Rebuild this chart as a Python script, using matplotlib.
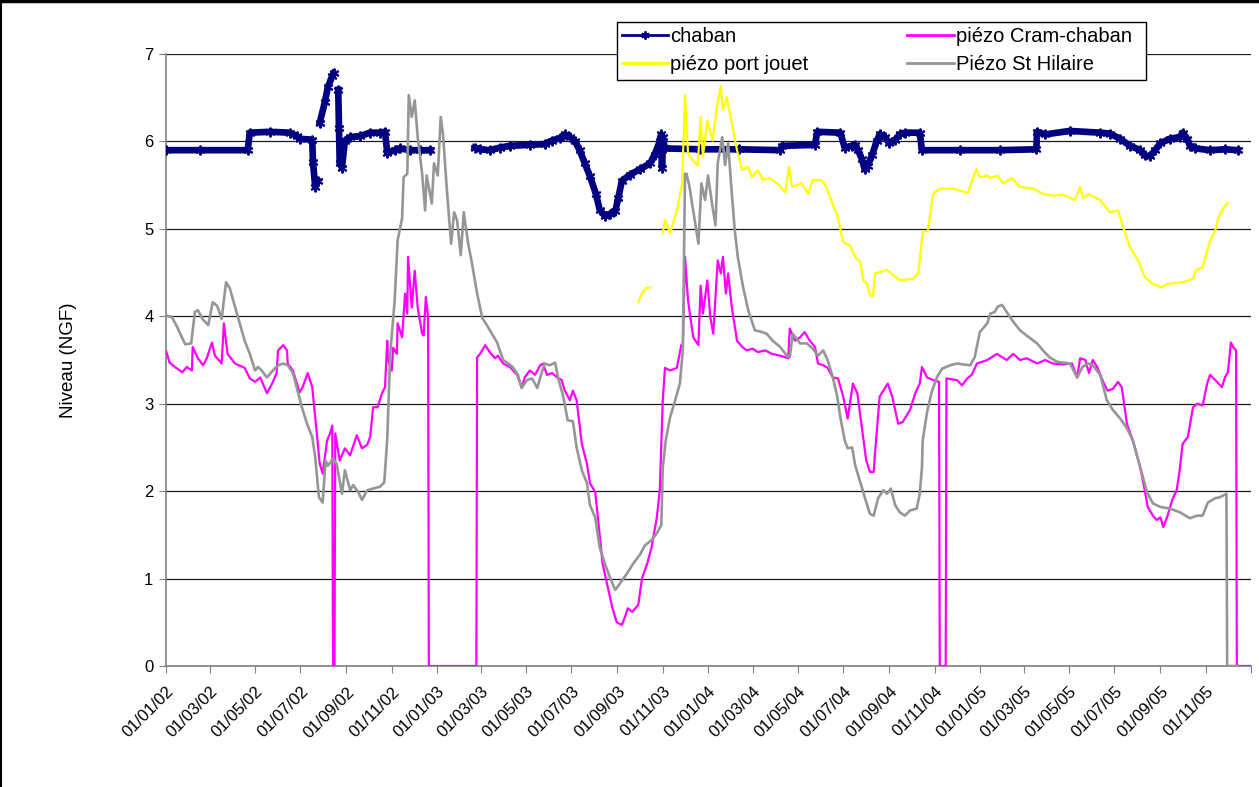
import numpy as np
import pandas as pd
import matplotlib
matplotlib.use('Agg')
import matplotlib.pyplot as plt
from matplotlib.lines import Line2D
from matplotlib.patches import Rectangle

plt.rcParams['font.family'] = ['Liberation Sans', 'DejaVu Sans']

# --- niveau canal de Chaban (None = pas de mesure) ---
chaban_dates = [
    '2002-01-01', '2002-02-16', '2002-04-21', '2002-04-24', '2002-05-21', '2002-06-17',
    '2002-06-26', '2002-06-30', '2002-07-17', '2002-07-18', '2002-07-21', '2002-07-25',
    '2002-07-26', '2002-07-27', '2002-08-03', '2002-08-07', '2002-08-13', '2002-08-15',
    '2002-08-18', '2002-08-21', '2002-08-22', '2002-08-23', '2002-08-26', '2002-08-30',
    '2002-09-06', '2002-09-19', '2002-10-03', '2002-10-16', '2002-10-23', '2002-10-26',
    '2002-11-05', '2002-11-12', '2002-11-26', '2002-12-09', '2002-12-23', '2003-01-20',
    '2003-02-21', '2003-02-28', '2003-03-13', '2003-03-27', '2003-04-09', '2003-05-06',
    '2003-05-26', '2003-06-05', '2003-06-16', '2003-06-22', '2003-06-29', '2003-07-06',
    '2003-07-12', '2003-07-19', '2003-07-26', '2003-08-03', '2003-08-08', '2003-08-15',
    '2003-08-22', '2003-08-29', '2003-09-02', '2003-09-07', '2003-09-18', '2003-10-01',
    '2003-10-15', '2003-10-21', '2003-10-28', '2003-10-30', '2003-10-31', '2003-11-01',
    '2003-11-04', '2003-12-21', '2004-02-12', '2004-04-07', '2004-04-10', '2004-05-24',
    '2004-05-27', '2004-06-27', '2004-07-03', '2004-07-13', '2004-07-17', '2004-07-21',
    '2004-07-26', '2004-07-30', '2004-08-03', '2004-08-09', '2004-08-15', '2004-08-19',
    '2004-08-26', '2004-09-01', '2004-09-09', '2004-09-15', '2004-09-22', '2004-10-12',
    '2004-10-15', '2004-12-05', '2005-01-28', '2005-03-18', '2005-03-19', '2005-03-30',
    '2005-05-02', '2005-06-12', '2005-06-25', '2005-07-09', '2005-07-22', '2005-08-05',
    '2005-08-11', '2005-08-18', '2005-08-25', '2005-09-01', '2005-09-14', '2005-09-27',
    '2005-10-01', '2005-10-07', '2005-10-11', '2005-10-18', '2005-11-07', '2005-11-27',
    '2005-12-14',
]
chaban_vals = [
    5.90, 5.90, 5.90, 6.10, 6.11, 6.10,
    6.06, 6.03, 6.02, 5.76, 5.48, 5.55,
    None, 6.21, 6.45, 6.62, 6.75, 6.78,
    None, 6.59, 6.15, 5.75, 5.70, 6.01,
    6.05, 6.06, 6.10, 6.10, 6.11, 5.87,
    5.90, 5.92, 5.90, 5.90, 5.90, None,
    5.93, 5.91, 5.90, 5.93, 5.95, 5.96,
    5.97, 6.01, 6.04, 6.08, 6.05, 6.00,
    5.90, 5.75, 5.60, 5.40, 5.22, 5.15,
    5.17, 5.20, 5.35, 5.55, 5.62, 5.68,
    5.75, 5.85, 6.00, 6.08, 5.70, 6.05,
    5.92, 5.91, 5.91, 5.90, 5.95, 5.96,
    6.11, 6.10, 5.93, 5.95, 5.96, 5.90,
    5.80, 5.68, 5.72, 5.85, 6.00, 6.08,
    6.05, 5.98, 6.02, 6.08, 6.10, 6.10,
    5.90, 5.90, 5.90, 5.91, 6.11, 6.08,
    6.12, 6.10, 6.09, 6.03, 5.95, 5.90,
    5.84, 5.83, 5.90, 5.98, 6.03, 6.05,
    6.10, 6.03, 5.95, 5.92, 5.90, 5.91,
    5.90,
]

# --- piézo Cram-chaban ---
cram_dates = [
    '2002-01-01', '2002-01-06', '2002-01-13', '2002-01-23', '2002-01-29', '2002-02-05',
    '2002-02-06', '2002-02-13', '2002-02-20', '2002-02-25', '2002-03-04', '2002-03-08',
    '2002-03-17', '2002-03-20', '2002-03-25', '2002-04-04', '2002-04-17', '2002-04-24',
    '2002-05-01', '2002-05-08', '2002-05-17', '2002-05-24', '2002-05-30', '2002-06-01',
    '2002-06-08', '2002-06-13', '2002-06-14', '2002-06-21', '2002-06-30', '2002-07-04',
    '2002-07-11', '2002-07-17', '2002-07-21', '2002-07-27', '2002-07-31', '2002-08-06',
    '2002-08-10', '2002-08-13', '2002-08-14', '2002-08-16', '2002-08-17', '2002-08-23',
    '2002-08-30', '2002-09-06', '2002-09-15', '2002-09-22', '2002-09-29', '2002-10-03',
    '2002-10-07', '2002-10-13', '2002-10-19', '2002-10-23', '2002-10-26', '2002-10-27',
    '2002-11-01', '2002-11-03', '2002-11-08', '2002-11-09', '2002-11-15', '2002-11-19',
    '2002-11-22', '2002-11-23', '2002-11-28', '2002-12-02', '2002-12-06', '2002-12-12',
    '2002-12-14', '2002-12-17', '2002-12-20', '2002-12-21', '2003-02-23', '2003-02-24',
    '2003-02-28', '2003-03-07', '2003-03-13', '2003-03-20', '2003-03-24', '2003-03-31',
    '2003-04-09', '2003-04-19', '2003-04-25', '2003-04-29', '2003-05-06', '2003-05-13',
    '2003-05-20', '2003-05-24', '2003-05-29', '2003-06-05', '2003-06-12', '2003-06-18',
    '2003-06-22', '2003-06-29', '2003-07-03', '2003-07-08', '2003-07-15', '2003-07-22',
    '2003-07-26', '2003-08-02', '2003-08-06', '2003-08-12', '2003-08-19', '2003-08-25',
    '2003-08-31', '2003-09-07', '2003-09-11', '2003-09-15', '2003-09-21', '2003-09-25',
    '2003-09-29', '2003-10-04', '2003-10-11', '2003-10-17', '2003-10-24', '2003-10-28',
    '2003-11-01', '2003-11-04', '2003-11-11', '2003-11-20', '2003-11-26', '2003-11-28',
    '2003-12-01', '2003-12-05', '2003-12-12', '2003-12-19', '2003-12-22', '2003-12-25',
    '2003-12-31', '2004-01-04', '2004-01-08', '2004-01-14', '2004-01-18', '2004-01-21',
    '2004-01-25', '2004-01-28', '2004-02-02', '2004-02-09', '2004-02-16', '2004-02-22',
    '2004-03-01', '2004-03-08', '2004-03-18', '2004-03-27', '2004-04-07', '2004-04-18',
    '2004-04-20', '2004-04-27', '2004-05-04', '2004-05-10', '2004-05-17', '2004-05-24',
    '2004-05-28', '2004-06-04', '2004-06-10', '2004-06-17', '2004-06-24', '2004-07-01',
    '2004-07-07', '2004-07-14', '2004-07-20', '2004-07-26', '2004-08-01', '2004-08-06',
    '2004-08-11', '2004-08-13', '2004-08-19', '2004-08-24', '2004-08-30', '2004-09-05',
    '2004-09-13', '2004-09-19', '2004-09-29', '2004-10-06', '2004-10-12', '2004-10-15',
    '2004-10-22', '2004-10-30', '2004-11-07', '2004-11-08', '2004-11-16', '2004-11-17',
    '2004-12-01', '2004-12-08', '2004-12-15', '2004-12-21', '2004-12-28', '2005-01-11',
    '2005-01-24', '2005-02-06', '2005-02-15', '2005-02-24', '2005-03-05', '2005-03-19',
    '2005-03-30', '2005-04-09', '2005-04-23', '2005-05-05', '2005-05-12', '2005-05-16',
    '2005-05-23', '2005-05-28', '2005-06-02', '2005-06-08', '2005-06-16', '2005-06-22',
    '2005-06-29', '2005-07-06', '2005-07-11', '2005-07-18', '2005-07-26', '2005-08-05',
    '2005-08-11', '2005-08-15', '2005-08-22', '2005-08-27', '2005-09-01', '2005-09-05',
    '2005-09-10', '2005-09-17', '2005-09-23', '2005-09-27', '2005-10-01', '2005-10-08',
    '2005-10-15', '2005-10-21', '2005-10-28', '2005-11-03', '2005-11-07', '2005-11-14',
    '2005-11-23', '2005-11-27', '2005-12-01', '2005-12-05', '2005-12-08', '2005-12-12',
    '2005-12-13', '2005-12-31',
]
cram_vals = [
    3.61, 3.47, 3.42, 3.36, 3.42, 3.38,
    3.65, 3.52, 3.44, 3.52, 3.70, 3.55,
    3.46, 3.92, 3.57, 3.46, 3.41, 3.29,
    3.25, 3.30, 3.12, 3.23, 3.35, 3.61,
    3.67, 3.61, 3.46, 3.38, 3.13, 3.19,
    3.35, 3.19, 2.85, 2.32, 2.20, 2.58,
    2.66, 2.75, 0.00, 0.00, 2.66, 2.35,
    2.49, 2.41, 2.64, 2.49, 2.53, 2.62,
    2.96, 2.96, 3.12, 3.19, 3.72, 3.50,
    3.38, 3.64, 3.57, 3.92, 3.76, 4.26,
    4.03, 4.68, 4.10, 4.52, 4.10, 3.80,
    3.78, 4.22, 3.99, 0.00, 0.00, 3.53,
    3.57, 3.67, 3.59, 3.52, 3.55, 3.46,
    3.42, 3.33, 3.18, 3.30, 3.38, 3.33,
    3.44, 3.46, 3.33, 3.35, 3.30, 3.27,
    3.15, 3.04, 3.15, 3.04, 2.54, 2.31,
    2.09, 1.99, 1.67, 1.17, 0.90, 0.67,
    0.50, 0.47, 0.56, 0.66, 0.62, 0.66,
    0.70, 1.00, 1.17, 1.36, 1.70, 2.01,
    3.04, 3.41, 3.38, 3.41, 3.67, 3.65,
    4.68, 4.18, 3.76, 3.67, 4.35, 4.03,
    4.41, 3.99, 3.80, 4.64, 4.49, 4.68,
    4.26, 4.49, 4.10, 3.72, 3.65, 3.61,
    3.63, 3.59, 3.61, 3.57, 3.55, 3.52,
    3.86, 3.72, 3.76, 3.82, 3.72, 3.65,
    3.46, 3.44, 3.41, 3.30, 3.29, 3.08,
    2.83, 3.23, 3.12, 2.73, 2.35, 2.22,
    2.22, 2.45, 3.08, 3.15, 3.23, 3.08,
    2.77, 2.79, 2.93, 3.12, 3.23, 3.42,
    3.30, 3.27, 3.25, 0.00, 0.00, 3.29,
    3.27, 3.21, 3.29, 3.33, 3.46, 3.50,
    3.57, 3.50, 3.57, 3.50, 3.52, 3.46,
    3.50, 3.46, 3.45, 3.46, 3.30, 3.52,
    3.50, 3.35, 3.50, 3.42, 3.25, 3.15,
    3.17, 3.25, 3.19, 2.77, 2.58, 2.27,
    2.01, 1.82, 1.72, 1.67, 1.70, 1.59,
    1.70, 1.90, 2.01, 2.24, 2.54, 2.62,
    2.96, 3.00, 2.98, 3.23, 3.33, 3.27,
    3.19, 3.30, 3.36, 3.70, 3.65, 3.61,
    0.00, 0.00,
]

# --- piézo port jouet ---
jouet_dates = [
    '2003-09-29', '2003-10-04', '2003-10-09', '2003-10-15', '2003-10-24',
    '2003-11-01', '2003-11-04', '2003-11-11', '2003-11-20', '2003-11-27', '2003-12-01',
    '2003-12-05', '2003-12-12', '2003-12-18', '2003-12-22', '2003-12-25', '2003-12-31',
    '2004-01-07', '2004-01-13', '2004-01-18', '2004-01-21', '2004-01-26', '2004-02-02',
    '2004-02-09', '2004-02-16', '2004-02-24', '2004-02-29', '2004-03-08', '2004-03-15',
    '2004-03-24', '2004-04-03', '2004-04-14', '2004-04-19', '2004-04-23', '2004-04-30',
    '2004-05-06', '2004-05-15', '2004-05-21', '2004-05-31', '2004-06-06', '2004-06-17',
    '2004-06-23', '2004-07-01', '2004-07-10', '2004-07-17', '2004-07-24', '2004-07-28',
    '2004-08-02', '2004-08-06', '2004-08-10', '2004-08-13', '2004-08-29', '2004-09-15',
    '2004-10-03', '2004-10-10', '2004-10-16', '2004-10-23', '2004-10-30', '2004-11-08',
    '2004-11-26', '2004-12-16', '2004-12-21', '2004-12-27', '2005-01-01', '2005-01-11',
    '2005-01-15', '2005-01-25', '2005-02-01', '2005-02-13', '2005-02-24', '2005-03-14',
    '2005-03-27', '2005-04-09', '2005-04-23', '2005-05-09', '2005-05-16', '2005-05-20',
    '2005-05-27', '2005-06-12', '2005-06-25', '2005-07-06', '2005-07-13', '2005-07-22',
    '2005-08-02', '2005-08-11', '2005-08-22', '2005-09-03', '2005-09-10', '2005-10-01',
    '2005-10-15', '2005-10-19', '2005-10-28', '2005-11-07', '2005-11-14', '2005-11-18',
    '2005-11-23', '2005-12-01',
]
jouet_vals = [
    4.16, 4.26, 4.32, 4.33, None,
    4.95, 5.10, 4.95, 5.21, 5.52, 6.53,
    5.86, 5.78, 5.72, 6.28, 5.82, 6.24,
    6.01, 6.40, 6.63, 6.36, 6.51, 6.21,
    5.90, 5.67, 5.71, 5.59, 5.67, 5.56,
    5.58, 5.52, 5.42, 5.71, 5.48, 5.50,
    5.52, 5.40, 5.56, 5.56, 5.52, 5.28,
    5.15, 4.85, 4.81, 4.68, 4.62, 4.41,
    4.37, 4.24, 4.23, 4.49, 4.53, 4.41,
    4.43, 4.49, 4.96, 4.98, 5.40, 5.46,
    5.46, 5.41, 5.54, 5.68, 5.59, 5.61,
    5.58, 5.61, 5.52, 5.58, 5.48, 5.46,
    5.40, 5.38, 5.39, 5.33, 5.48, 5.35,
    5.40, 5.33, 5.19, 5.21, 5.02, 4.79,
    4.64, 4.45, 4.37, 4.33, 4.37, 4.39,
    4.43, 4.53, 4.56, 4.87, 4.98, 5.12,
    5.21, 5.30,
]

# --- Piézo St Hilaire ---
hilaire_dates = [
    '2002-01-01', '2002-01-09', '2002-01-16', '2002-01-23', '2002-01-27', '2002-02-04',
    '2002-02-09', '2002-02-13', '2002-02-20', '2002-02-27', '2002-03-05', '2002-03-11',
    '2002-03-17', '2002-03-23', '2002-03-28', '2002-04-04', '2002-04-11', '2002-04-17',
    '2002-04-24', '2002-05-01', '2002-05-05', '2002-05-10', '2002-05-17', '2002-05-25',
    '2002-06-01', '2002-06-08', '2002-06-14', '2002-06-21', '2002-06-26', '2002-07-03',
    '2002-07-10', '2002-07-17', '2002-07-21', '2002-07-26', '2002-07-31', '2002-08-04',
    '2002-08-07', '2002-08-14', '2002-08-19', '2002-08-26', '2002-08-30', '2002-09-06',
    '2002-09-10', '2002-09-17', '2002-09-22', '2002-09-29', '2002-10-07', '2002-10-16',
    '2002-10-22', '2002-10-26', '2002-10-30', '2002-11-05', '2002-11-09', '2002-11-15',
    '2002-11-17', '2002-11-22', '2002-11-24', '2002-11-28', '2002-12-02', '2002-12-06',
    '2002-12-12', '2002-12-16', '2002-12-18', '2002-12-25', '2002-12-28', '2003-01-02',
    '2003-01-06', '2003-01-09', '2003-01-14', '2003-01-20', '2003-01-24', '2003-01-28',
    '2003-02-02', '2003-02-06', '2003-02-12', '2003-02-17', '2003-02-24', '2003-03-03',
    '2003-03-09', '2003-03-16', '2003-03-23', '2003-03-31', '2003-04-07', '2003-04-13',
    '2003-04-20', '2003-04-25', '2003-05-02', '2003-05-09', '2003-05-16', '2003-05-20',
    '2003-05-26', '2003-06-02', '2003-06-09', '2003-06-13', '2003-06-20', '2003-06-26',
    '2003-07-03', '2003-07-08', '2003-07-15', '2003-07-22', '2003-07-26', '2003-08-02',
    '2003-08-08', '2003-08-15', '2003-08-22', '2003-08-29', '2003-09-04', '2003-09-14',
    '2003-09-22', '2003-10-01', '2003-10-08', '2003-10-17', '2003-10-24', '2003-10-30',
    '2003-11-01', '2003-11-05', '2003-11-11', '2003-11-17', '2003-11-24', '2003-11-28',
    '2003-12-01', '2003-12-03', '2003-12-07', '2003-12-14', '2003-12-19', '2003-12-23',
    '2003-12-28', '2004-01-01', '2004-01-07', '2004-01-11', '2004-01-14', '2004-01-20',
    '2004-01-24', '2004-01-28', '2004-02-02', '2004-02-06', '2004-02-10', '2004-02-17',
    '2004-02-24', '2004-03-04', '2004-03-14', '2004-03-20', '2004-03-28', '2004-04-07',
    '2004-04-16', '2004-04-20', '2004-04-24', '2004-05-04', '2004-05-13', '2004-05-21',
    '2004-05-28', '2004-06-04', '2004-06-10', '2004-06-17', '2004-06-23', '2004-06-27',
    '2004-07-03', '2004-07-07', '2004-07-13', '2004-07-17', '2004-07-24', '2004-07-30',
    '2004-08-06', '2004-08-11', '2004-08-17', '2004-08-24', '2004-08-29', '2004-09-03',
    '2004-09-09', '2004-09-15', '2004-09-22', '2004-09-29', '2004-10-08', '2004-10-12',
    '2004-10-15', '2004-10-16', '2004-10-22', '2004-10-28', '2004-11-04', '2004-11-11',
    '2004-11-22', '2004-12-01', '2004-12-09', '2004-12-19', '2004-12-25', '2005-01-01',
    '2005-01-11', '2005-01-15', '2005-01-21', '2005-01-25', '2005-01-31', '2005-02-06',
    '2005-02-13', '2005-02-24', '2005-03-05', '2005-03-19', '2005-03-27', '2005-04-05',
    '2005-04-15', '2005-04-23', '2005-05-02', '2005-05-06', '2005-05-12', '2005-05-19',
    '2005-05-27', '2005-06-02', '2005-06-12', '2005-06-21', '2005-06-29', '2005-07-09',
    '2005-07-18', '2005-07-26', '2005-08-05', '2005-08-14', '2005-08-22', '2005-09-01',
    '2005-09-14', '2005-09-27', '2005-10-11', '2005-10-20', '2005-10-28', '2005-11-04',
    '2005-11-14', '2005-11-20', '2005-11-29', '2005-11-30', '2005-12-14',
]
hilaire_vals = [
    4.01, 3.99, 3.88, 3.75, 3.68, 3.69,
    4.05, 4.07, 3.96, 3.90, 4.16, 4.12,
    3.97, 4.39, 4.32, 4.11, 3.90, 3.72,
    3.57, 3.38, 3.42, 3.38, 3.30, 3.38,
    3.44, 3.46, 3.44, 3.35, 3.19, 2.96,
    2.77, 2.62, 2.39, 1.93, 1.87, 2.35,
    2.29, 2.37, 2.31, 1.97, 2.24, 2.01,
    2.07, 1.99, 1.90, 2.01, 2.03, 2.05,
    2.10, 2.60, 3.57, 4.18, 4.87, 5.12,
    5.59, 5.63, 6.53, 6.28, 6.47, 6.05,
    5.63, 5.21, 5.61, 5.29, 5.75, 5.61,
    6.28, 6.09, 5.48, 4.83, 5.19, 5.10,
    4.70, 5.19, 4.83, 4.61, 4.26, 3.98,
    3.90, 3.80, 3.70, 3.50, 3.46, 3.42,
    3.33, 3.18, 3.27, 3.29, 3.18, 3.30,
    3.46, 3.44, 3.47, 3.30, 3.08, 2.81,
    2.80, 2.50, 2.24, 2.09, 1.84, 1.70,
    1.36, 1.17, 1.01, 0.87, 0.94, 1.06,
    1.17, 1.27, 1.38, 1.44, 1.52, 1.61,
    2.27, 2.58, 2.85, 3.02, 3.23, 3.61,
    5.63, 5.63, 5.48, 5.10, 4.83, 5.52,
    5.33, 5.61, 5.25, 5.04, 5.75, 6.05,
    5.73, 5.98, 5.40, 4.98, 4.68, 4.34,
    4.07, 3.84, 3.82, 3.80, 3.72, 3.65,
    3.55, 3.53, 3.80, 3.69, 3.69, 3.63,
    3.55, 3.61, 3.50, 3.30, 3.08, 2.85,
    2.58, 2.49, 2.50, 2.30, 2.10, 1.93,
    1.74, 1.72, 1.92, 2.01, 1.97, 2.03,
    1.84, 1.76, 1.72, 1.78, 1.80, 1.97,
    2.27, 2.58, 2.91, 3.13, 3.30, 3.40,
    3.44, 3.46, 3.45, 3.44, 3.53, 3.82,
    3.92, 4.03, 4.05, 4.11, 4.13, 4.05,
    3.96, 3.84, 3.78, 3.69, 3.61, 3.53,
    3.48, 3.47, 3.46, 3.40, 3.30, 3.42,
    3.46, 3.44, 3.33, 3.04, 2.93, 2.83,
    2.72, 2.58, 2.27, 1.99, 1.86, 1.82,
    1.80, 1.76, 1.69, 1.72, 1.72, 1.87,
    1.92, 1.93, 1.97, 0.00, 0.00,
]

x_start, x_end = '2002-01-01', '2006-01-01'


def series(dates, vals):
    return pd.to_datetime(dates), np.array(vals, dtype=float)


fig = plt.figure(figsize=(12.59, 7.87), dpi=100)
ax = fig.add_axes([0.1318, 0.1537, 0.8618, 0.7777])

star = (6, 2, 0)
d, v = series(chaban_dates, chaban_vals)
ax.plot(d, v, color='#000080', lw=4.8, marker=star, ms=7, mew=1.4, zorder=3)
d, v = series(cram_dates, cram_vals)
ax.plot(d, v, color='#FF00FF', lw=1.6, zorder=4)
d, v = series(jouet_dates, jouet_vals)
ax.plot(d, v, color='#FFFF00', lw=1.6, zorder=5)
d, v = series(hilaire_dates, hilaire_vals)
ax.plot(d, v, color='#969696', lw=1.9, zorder=6)

ax.set_ylim(0, 7)
ax.set_yticks(range(0, 8))
ax.set_xlim(pd.Timestamp(x_start), pd.Timestamp(x_end))
ticks = pd.date_range(x_start, x_end, freq='2MS')
ax.set_xticks(ticks)
ax.set_xticklabels([t.strftime('%d/%m/%y') for t in ticks[:-1]] + [''],
                   rotation=45, ha='right', rotation_mode='anchor')

ax.grid(axis='y', color='#1a1a1a', lw=0.9, zorder=1)
ax.set_axisbelow(True)
for s in ('top', 'right'):
    ax.spines[s].set_visible(False)
for s in ('left', 'bottom'):
    ax.spines[s].set_color('#808080')
    ax.spines[s].set_linewidth(1.2)
ax.tick_params(axis='both', direction='out', length=5, color='#808080',
               labelsize=12, pad=4)
ax.tick_params(axis='x', pad=8)
ax.set_ylabel('Niveau (NGF)', fontsize=13.5, labelpad=48)

# legend box drawn as a plain white frame, entries placed inside it
fig.patches.append(Rectangle((0.4901, 0.8983), 0.4202, 0.0737,
                             transform=fig.transFigure, facecolor='white',
                             edgecolor='black', lw=1.0, zorder=2))
handles = [
    Line2D([], [], color='#000080', lw=2, marker=star, ms=6, mew=1.3),
    Line2D([], [], color='#FFFF00', lw=2),
    Line2D([], [], color='#FF00FF', lw=2),
    Line2D([], [], color='#969696', lw=2),
]
labels = ['chaban', 'piézo port jouet', 'piézo Cram-chaban', 'Piézo St Hilaire']
leg = fig.legend(handles, labels, ncol=2, loc='upper left',
                 bbox_to_anchor=(0.4901, 0.9720), fontsize=14.5,
                 frameon=False, borderaxespad=0, borderpad=0.25,
                 handlelength=2.3, handletextpad=0.1, labelspacing=0.45,
                 columnspacing=4.9, numpoints=1)
leg.set_zorder(3)

# chart area border (top and left edges)
fig.add_artist(Line2D([0, 1], [0.999, 0.999], transform=fig.transFigure,
                      color='black', lw=2.5))
fig.add_artist(Line2D([0.001, 0.001], [0, 1], transform=fig.transFigure,
                      color='black', lw=1.5))

fig.savefig('out.png', dpi=100)
